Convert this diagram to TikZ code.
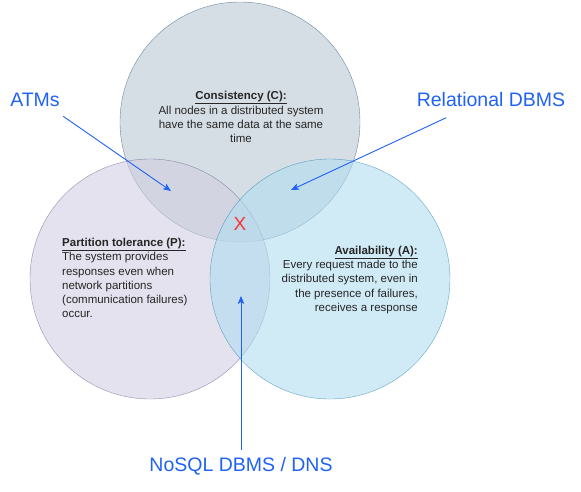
\documentclass[tikz,border=0pt]{standalone}
\usepackage{fontspec}
\setmainfont{Liberation Sans}
\usetikzlibrary{arrows.meta}
\definecolor{cfill}{HTML}{BAC8D3}
\definecolor{cline}{HTML}{23445D}
\definecolor{pfill}{HTML}{D0CEE2}
\definecolor{pline}{HTML}{56517E}
\definecolor{afill}{HTML}{B1DDF0}
\definecolor{aline}{HTML}{10739E}
\definecolor{labelblue}{HTML}{1F62F5}
\definecolor{markred}{HTML}{FF3333}
\tikzset{
	setcircle/.style={fill opacity=0.6, draw opacity=0.6, thin},
	desc/.style={inner sep=0pt, text=black!85, font=\fontsize{11.5}{14.2}\selectfont},
	example/.style={text=labelblue, font=\fontsize{19.5}{22}\selectfont},
	pointer/.style={labelblue, line width=0.9pt, -{Stealth[length=8pt,width=6.5pt,inset=2pt]}},
}
\begin{document}
\begin{tikzpicture}[x=1pt,y=-1pt]
	\useasboundingbox (0,0) rectangle (581,491);
	% Sets
	\filldraw[setcircle, fill=cfill, draw=cline] (240,122) circle[radius=120];
	\filldraw[setcircle, fill=pfill, draw=pline] (150,279) circle[radius=120];
	\filldraw[setcircle, fill=afill, draw=aline] (330,279) circle[radius=120];
	% Descriptions
	\node[desc, align=center] (cons) at (241,117)
		{\underline{\textbf{Consistency (C):}}\\All nodes in a distributed system\\have the same data at the same\\time};
	\node[desc, align=left, anchor=west] (part) at (62,278)
		{\underline{\textbf{Partition tolerance (P):}}\\The system provides\\responses even when\\network partitions\\(communication failures)\\occur.};
	\node[desc, align=right, anchor=east] (avail) at (418,280)
		{\underline{\textbf{Availability (A):}}\\Every request made to the\\distributed system, even in\\the presence of failures,\\receives a response};
	% Empty intersection
	\node[text=markred, font=\fontsize{19}{22}\selectfont] (none) at (240,224) {X};
	% Examples
	\node[example] (atms) at (35,100) {ATMs};
	\node[example] (rdbms) at (491,100) {Relational DBMS};
	\node[example] (nosql) at (241,466) {NoSQL DBMS / DNS};
	\coordinate (cp) at (171,191);
	\coordinate (ca) at (291,190);
	\coordinate (pa) at (241,296);
	\draw[pointer] ([yshift=-6pt]atms.south east) -- (cp);
	\draw[pointer] ([xshift=33pt,yshift=-7pt]rdbms.south west) -- (ca);
	\draw[pointer] ([yshift=4pt]nosql.north) -- (pa);
\end{tikzpicture}
\end{document}
